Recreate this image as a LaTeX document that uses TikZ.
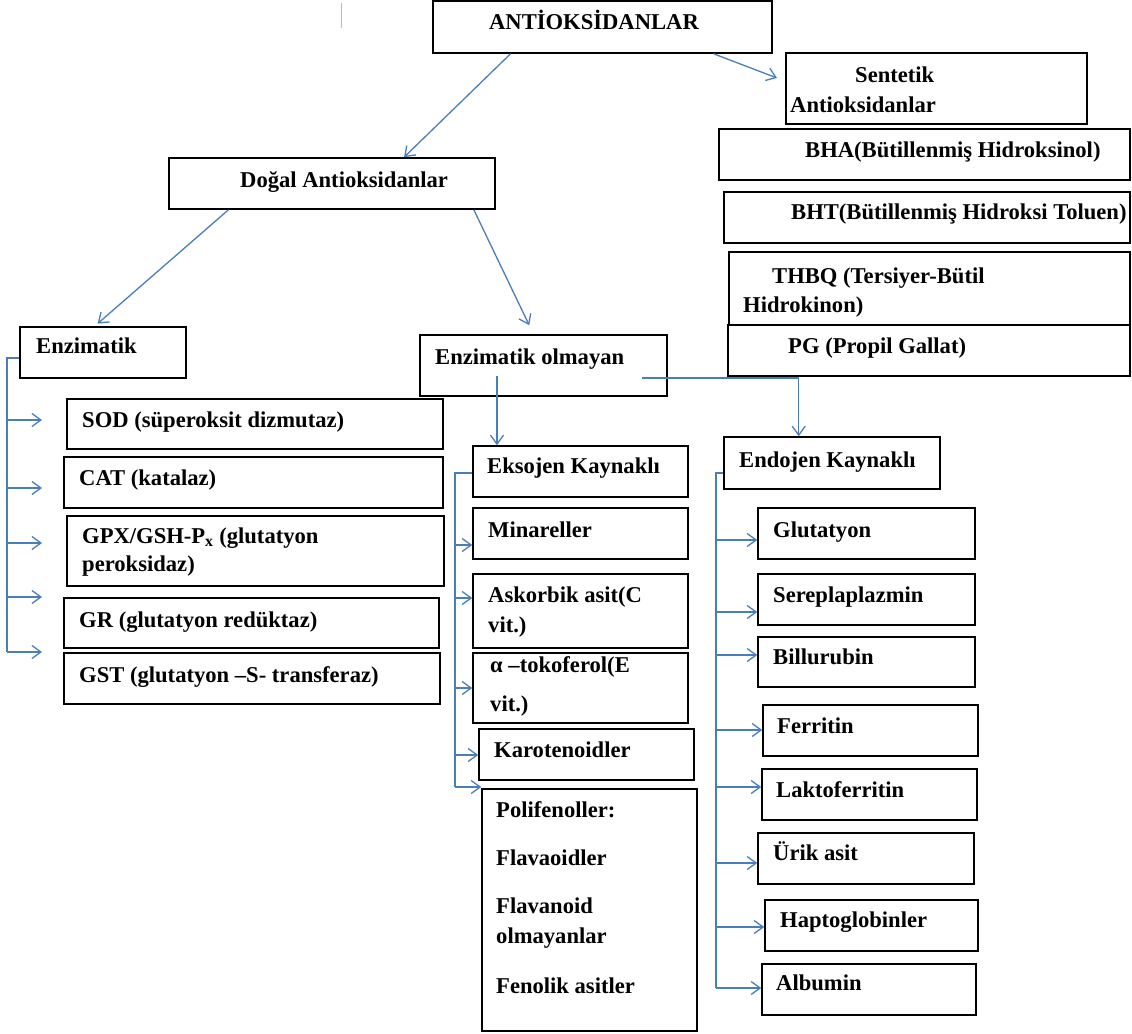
\documentclass[tikz,border=0pt]{standalone}
\usepackage{fontspec}
\setmainfont{Liberation Serif}
\usetikzlibrary{arrows.meta,calc,fit}
\definecolor{conblue}{HTML}{4A7EBB}
\newcommand\mkbox[5]{%
  \coordinate (#1-nw) at (#2,#3);
  \coordinate (#1-se) at (#4,#5);
  \node[bx,fit=(#1-nw)(#1-se)] (#1) {};}
\begin{document}
\begin{tikzpicture}[x=1pt,y=-1pt,
  bx/.style={draw=black,line width=1.5pt,inner sep=0pt,rectangle},
  tx/.style={anchor=base west,inner sep=0pt,font=\fontsize{22.6}{30}\selectfont\bfseries},
  conn/.style={draw=conblue,line width=1.3pt},
  arr/.style={conn,-{Straight Barb[length=9pt,width=13pt]}}]
\useasboundingbox (0,0) rectangle (1132,1033);
% stray mark
\draw[gray!55,line width=1pt] (341,3) -- (341,28);
% boxes
\mkbox{ant}{433}{1}{772}{53}
\mkbox{dog}{169}{158}{495}{209}
\mkbox{sen}{786}{53}{1087}{124}
\mkbox{bha}{719}{129}{1130}{180}
\mkbox{bht}{724}{192}{1130}{243}
\mkbox{thbq}{729}{252}{1130}{325}
\mkbox{pg}{728}{325}{1130}{376}
\mkbox{enz}{20}{327}{186}{378}
\mkbox{sod}{67}{399}{443}{449}
\mkbox{cat}{64}{457}{443}{508}
\mkbox{gpx}{67}{516}{444}{586}
\mkbox{gr}{64}{598}{439}{648}
\mkbox{gst}{64}{653}{440}{704}
\mkbox{eno}{420}{335}{667}{396}
\mkbox{eks}{473}{446}{688}{497}
\mkbox{min}{473}{508}{688}{559}
\mkbox{ask}{473}{574}{688}{648}
\mkbox{toc}{473}{653}{688}{723}
\mkbox{kar}{479}{729}{694}{780}
\mkbox{pol}{482}{789}{697}{1031}
\mkbox{endo}{724}{437}{940}{489}
\mkbox{glu}{758}{508}{975}{559}
\mkbox{ser}{758}{574}{975}{625}
\mkbox{bil}{758}{637}{975}{687}
\mkbox{fer}{763}{705}{978}{756}
\mkbox{lak}{762}{769}{977}{820}
\mkbox{uri}{758}{833}{974}{884}
\mkbox{hap}{765}{900}{978}{951}
\mkbox{alb}{762}{964}{976}{1015}
% texts
\node[tx,anchor=base] (ant-t) at (594,30) {ANTİOKSİDANLAR};
\node[tx] (dog-t) at (240,187) {Doğal Antioksidanlar};
\node[tx] (sen-t1) at (855,82) {Sentetik};
\node[tx] (sen-t2) at (790,112) {Antioksidanlar};
\node[tx] (bha-t) at (805,157) {BHA(Bütillenmiş Hidroksinol)};
\node[tx] (bht-t) at (791,219) {BHT(Bütillenmiş Hidroksi Toluen)};
\node[tx] (thbq-t1) at (772,283) {THBQ (Tersiyer-Bütil};
\node[tx] (thbq-t2) at (743,312) {Hidrokinon)};
\node[tx] (pg-t) at (788,353) {PG (Propil Gallat)};
\node[tx] (enz-t) at (36,353) {Enzimatik};
\node[tx] (sod-t) at (82,427) {SOD (süperoksit dizmutaz)};
\node[tx] (cat-t) at (79,485) {CAT (katalaz)};
\node[tx] (gpx-t1) at (82,543) {GPX/GSH-P\textsubscript{x} (glutatyon};
\node[tx] (gpx-t2) at (82,571) {peroksidaz)};
\node[tx] (gr-t) at (79,627) {GR (glutatyon redüktaz)};
\node[tx] (gst-t) at (79,682) {GST (glutatyon –S- transferaz)};
\node[tx] (eno-t) at (435,364) {Enzimatik olmayan};
\node[tx] (eks-t) at (487,473) {Eksojen Kaynaklı};
\node[tx] (min-t) at (488,537) {Minareller};
\node[tx] (ask-t1) at (488,602) {Askorbik asit(C};
\node[tx] (ask-t2) at (488,632) {vit.)};
\node[tx] (toc-t1) at (490,672) {α –tokoferol(E};
\node[tx] (toc-t2) at (490,711) {vit.)};
\node[tx] (kar-t) at (494,757) {Karotenoidler};
\node[tx] (pol-t1) at (496,817) {Polifenoller:};
\node[tx] (pol-t2) at (496,865) {Flavaoidler};
\node[tx] (pol-t3) at (496,913) {Flavanoid};
\node[tx] (pol-t4) at (496,943) {olmayanlar};
\node[tx] (pol-t5) at (496,993) {Fenolik asitler};
\node[tx] (endo-t) at (739,467) {Endojen Kaynaklı};
\node[tx] (glu-t) at (773,537) {Glutatyon};
\node[tx] (ser-t) at (773,602) {Sereplaplazmin};
\node[tx] (bil-t) at (773,664) {Billurubin};
\node[tx] (fer-t) at (777,733) {Ferritin};
\node[tx] (lak-t) at (776,797) {Laktoferritin};
\node[tx] (uri-t) at (773,860) {Ürik asit};
\node[tx] (hap-t) at (780,927) {Haptoglobinler};
\node[tx] (alb-t) at (776,990) {Albumin};
% top connectors
\coordinate (senin) at (777,78);
\draw[arr] ($(ant.south west)!0.23!(ant.south east)$) -- ($(dog.north west)!0.72!(dog.north east)$);
\draw[arr] ($(ant.south west)!0.826!(ant.south east)$) -- (senin);
\draw[arr,shorten >=4pt] ($(dog.south west)!0.184!(dog.south east)$) -- ($(enz.north west)!0.45!(enz.north east)$);
\draw[arr,shorten >=10pt] ($(dog.south west)!0.933!(dog.south east)$) -- ($(eno.north west)!0.46!(eno.north east)$);
% enzimatik branch
\coordinate (ltr) at (7,358);
\coordinate (lt1) at (42,420);
\coordinate (lt2) at (42,488);
\coordinate (lt3) at (42,543);
\coordinate (lt4) at (42,597);
\coordinate (lt5) at (42,652);
\draw[conn] (enz.west |- ltr) -- (ltr) -- (ltr |- lt5);
\foreach \t in {lt1,lt2,lt3,lt4,lt5} \draw[arr] (ltr |- \t) -- (\t);
% enzimatik olmayan
\coordinate (enoa) at (497,376);
\coordinate (enob) at (642,378);
\coordinate (endoa) at ($(endo.north west)!0.347!(endo.north east)$);
\draw[arr] (enoa) -- (eks.north -| enoa);
\draw[arr] (enob) -| (endoa);
% eksojen branch
\coordinate (etr) at (455,473);
\draw[conn] (eks.west |- etr) -- (etr) -- (455,787);
\draw[arr] (etr |- 0,545) -- (min.west |- 0,545);
\draw[arr] (etr |- 0,598) -- (ask.west |- 0,598);
\draw[arr] (etr |- 0,688) -- (toc.west |- 0,688);
\draw[arr] (etr |- 0,755) -- (kar.west |- 0,755);
\draw[arr] (etr |- 0,787) -- (pol.west |- 0,787);
% endojen branch
\coordinate (ntr) at (716,473);
\draw[conn] (endo.west |- ntr) -- (ntr) -- (716,988);
\draw[arr] (ntr |- 0,540) -- (glu.west |- 0,540);
\draw[arr] (ntr |- 0,612) -- (ser.west |- 0,612);
\draw[arr] (ntr |- 0,655) -- (bil.west |- 0,655);
\draw[arr] (ntr |- 0,730) -- (fer.west |- 0,730);
\draw[arr] (ntr |- 0,787) -- (lak.west |- 0,787);
\draw[arr] (ntr |- 0,863) -- (uri.west |- 0,863);
\draw[arr] (ntr |- 0,927) -- (hap.west |- 0,927);
\draw[arr] (ntr |- 0,988) -- (alb.west |- 0,988);
\end{tikzpicture}
\end{document}
